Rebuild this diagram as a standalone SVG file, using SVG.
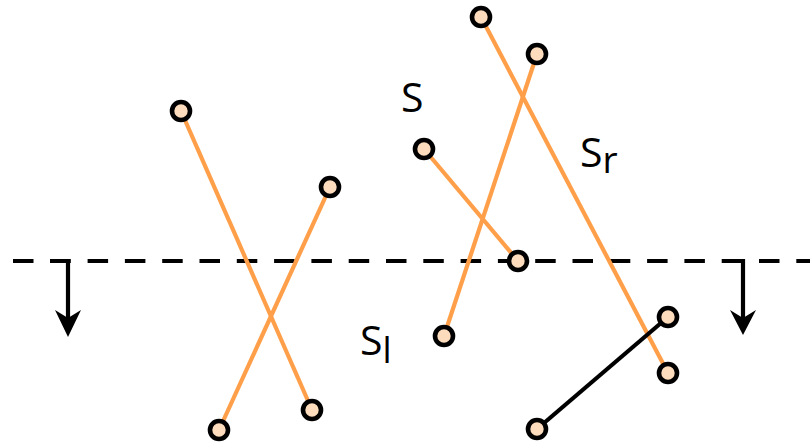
<svg xmlns="http://www.w3.org/2000/svg" width="810" height="443" viewBox="0 0 810 443">
<style>
.seg{stroke:#ff9f4a;stroke-width:4.2;fill:none}
.blk{stroke:#000;stroke-width:4.2;fill:none}
.pt{fill:#fddcbe;stroke:#000;stroke-width:4.6}
.lbl{font-family:"Open Sans","Noto Sans",sans-serif;font-size:41px;fill:#000}
</style>
<rect width="810" height="443" fill="#fff"/>
<g id="sweep">
<line x1="13" y1="261" x2="810" y2="261" stroke="#000" stroke-width="4" stroke-dasharray="20.5 16.8"/>
<path class="blk" d="M50,261 H68 V322"/>
<path d="M68,337 L55,310 L68,318 L81,310 Z" fill="#000"/>
<path class="blk" d="M722,261 H743 V320"/>
<path d="M743,335 L730,310 L743,318 L756,310 Z" fill="#000"/>
</g>
<g id="connectors">
<line class="seg" x1="181" y1="111" x2="312" y2="410"/>
<line class="seg" x1="330" y1="187" x2="219" y2="430"/>
<line class="seg" x1="424" y1="149" x2="518" y2="261"/>
<line class="seg" x1="537" y1="54" x2="444" y2="336"/>
<line class="seg" x1="481" y1="17" x2="668" y2="373"/>
<line class="blk" x1="668" y1="317" x2="537" y2="429"/>
</g>
<g id="points">
<circle class="pt" cx="181" cy="111" r="9"/>
<circle class="pt" cx="312" cy="410" r="9"/>
<circle class="pt" cx="330" cy="187" r="9"/>
<circle class="pt" cx="219" cy="430" r="9"/>
<circle class="pt" cx="424" cy="149" r="9"/>
<circle class="pt" cx="518" cy="261" r="9"/>
<circle class="pt" cx="537" cy="54" r="9"/>
<circle class="pt" cx="444" cy="336" r="9"/>
<circle class="pt" cx="481" cy="17" r="9"/>
<circle class="pt" cx="668" cy="373" r="9"/>
<circle class="pt" cx="668" cy="317" r="9"/>
<circle class="pt" cx="537" cy="429" r="9"/>
</g>
<g id="labels">
<text class="lbl" x="401" y="112">S</text>
<text class="lbl" x="580" y="167">S<tspan font-size="37" dy="6">r</tspan></text>
<text class="lbl" x="360" y="355">S<tspan font-size="36" dy="8">l</tspan></text>
</g>
</svg>
